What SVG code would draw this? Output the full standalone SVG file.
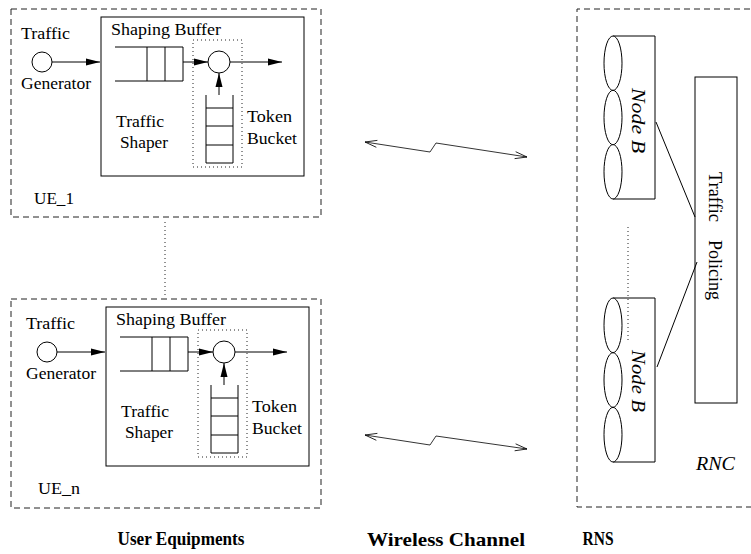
<svg xmlns="http://www.w3.org/2000/svg" xmlns:xlink="http://www.w3.org/1999/xlink" width="751" height="554" viewBox="0 0 751 554">
  <style>
    .ln { stroke: #000; stroke-width: 1; fill: none; }
    .box { stroke: #000; stroke-width: 1; fill: #fff; }
    .dash { stroke: #222; stroke-width: 1; fill: none; stroke-dasharray: 6 4; }
    .dot { stroke: #222; stroke-width: 1; fill: none; stroke-dasharray: 1 3; }
    .thin { stroke: #000; stroke-width: 0.8; fill: none; }
    text { font-family: "Liberation Serif", "Times New Roman", serif; fill: #000; }
    .t { font-size: 16px; }
    .it { font-style: italic; }
    .cap { font-size: 19px; font-weight: bold; text-anchor: middle; }
  </style>
  <defs>
    <marker id="arrow" markerUnits="userSpaceOnUse" markerWidth="14" markerHeight="8" refX="14" refY="4" orient="auto">
      <path d="M0,0.5 L14,4 L0,7.5 z" fill="#000"/>
    </marker>
    <marker id="open" markerUnits="userSpaceOnUse" markerWidth="14" markerHeight="10" refX="13" refY="5" orient="auto-start-reverse">
      <path d="M1,1.5 L13,5 L1,8.5" fill="none" stroke="#000" stroke-width="0.8"/>
    </marker>
    <!-- generator, shaping buffer and token bucket of one user equipment -->
    <g id="ue-body">
      <rect class="box" x="101" y="17" width="203" height="159"/>
      <text class="t" x="21" y="39" textLength="49" lengthAdjust="spacingAndGlyphs">Traffic</text>
      <circle class="box" cx="42" cy="62" r="10"/>
      <line class="ln" x1="52" y1="62" x2="100" y2="62" marker-end="url(#arrow)"/>
      <text class="t" x="21" y="89" textLength="70" lengthAdjust="spacingAndGlyphs">Generator</text>
      <text class="t" x="111" y="35" textLength="110" lengthAdjust="spacingAndGlyphs">Shaping Buffer</text>
      <path class="ln" d="M115,47 H183 V81 H115 M147,47 V81 M165,47 V81"/>
      <line class="ln" x1="183" y1="62" x2="208" y2="62" marker-end="url(#arrow)"/>
      <rect class="dot" x="193" y="40" width="49" height="127"/>
      <circle class="box" cx="219" cy="62" r="11"/>
      <line class="ln" x1="230" y1="62" x2="282" y2="62" marker-end="url(#arrow)"/>
      <path class="ln" d="M206,95 V163 H233 V95 M206,108 H233 M206,126 H233 M206,145 H233"/>
      <line class="ln" x1="219" y1="95" x2="219" y2="73" marker-end="url(#arrow)"/>
      <text class="t" x="116" y="127" textLength="48" lengthAdjust="spacingAndGlyphs">Traffic</text>
      <text class="t" x="120" y="148" textLength="48" lengthAdjust="spacingAndGlyphs">Shaper</text>
      <text class="t" x="247" y="122" textLength="45" lengthAdjust="spacingAndGlyphs">Token</text>
      <text class="t" x="247" y="144" textLength="50" lengthAdjust="spacingAndGlyphs">Bucket</text>
    </g>
  </defs>

  <rect width="751" height="554" fill="#fff"/>

  <!-- user equipment 1 -->
  <g id="ue1">
    <rect class="dash" x="11" y="9" width="310" height="208"/>
    <use xlink:href="#ue-body"/>
    <text class="t" x="34" y="204" textLength="40" lengthAdjust="spacingAndGlyphs">UE_1</text>
  </g>

  <!-- user equipment n -->
  <g id="uen">
    <rect class="dash" x="11" y="299" width="310" height="209"/>
    <use xlink:href="#ue-body" transform="translate(5,290)"/>
    <text class="t" x="38" y="494" textLength="42" lengthAdjust="spacingAndGlyphs">UE_n</text>
  </g>

  <!-- radio network subsystem -->
  <g id="rns">
    <path class="dash" d="M760,9 H577 V507 H760"/>
    <text class="it" x="696" y="470" font-size="18" textLength="39" lengthAdjust="spacingAndGlyphs">RNC</text>
  </g>

  <g id="nodeb1">
    <path class="ln" d="M613,36 H655 V199 H613"/>
    <ellipse class="box" cx="613" cy="63.2" rx="9" ry="27.2"/>
    <ellipse class="box" cx="613" cy="117.5" rx="9" ry="27.2"/>
    <ellipse class="box" cx="613" cy="171.8" rx="9" ry="27.2"/>
    <text class="it" transform="translate(632,120.5) rotate(90)" font-size="19" text-anchor="middle" textLength="65" lengthAdjust="spacingAndGlyphs">Node B</text>
  </g>

  <g id="nodeb2">
    <path class="ln" d="M613,298 H655 V462 H613"/>
    <ellipse class="box" cx="613" cy="325.3" rx="9" ry="27.3"/>
    <ellipse class="box" cx="613" cy="380" rx="9" ry="27.3"/>
    <ellipse class="box" cx="613" cy="434.7" rx="9" ry="27.3"/>
    <text class="it" transform="translate(632,381) rotate(90)" font-size="19" text-anchor="middle" textLength="62" lengthAdjust="spacingAndGlyphs">Node B</text>
  </g>

  <g id="policing">
    <rect class="box" x="695" y="77" width="42" height="326"/>
    <text transform="translate(709,197) rotate(90)" font-size="18" text-anchor="middle" textLength="50" lengthAdjust="spacingAndGlyphs">Traffic</text>
    <text transform="translate(709,270) rotate(90)" font-size="18" text-anchor="middle" textLength="60" lengthAdjust="spacingAndGlyphs">Policing</text>
  </g>

  <!-- links -->
  <g id="connectors">
    <line class="dot" x1="165" y1="222" x2="165" y2="296"/>
    <line class="dot" x1="628" y1="227" x2="628" y2="343"/>
    <line class="ln" x1="656" y1="122" x2="695" y2="217"/>
    <line class="ln" x1="657" y1="367" x2="697" y2="262"/>
    <polyline class="thin" points="365,142 430,152 436,143 527,157" marker-start="url(#open)" marker-end="url(#open)"/>
    <polyline class="thin" points="365,435 430,445 436,436 527,449" marker-start="url(#open)" marker-end="url(#open)"/>
  </g>

  <!-- captions -->
  <g id="captions">
    <text class="cap" x="181" y="545" textLength="127" lengthAdjust="spacingAndGlyphs">User Equipments</text>
    <text class="cap" x="446" y="546" textLength="158" lengthAdjust="spacingAndGlyphs">Wireless Channel</text>
    <text class="cap" x="598" y="545" textLength="31" lengthAdjust="spacingAndGlyphs">RNS</text>
  </g>
</svg>
